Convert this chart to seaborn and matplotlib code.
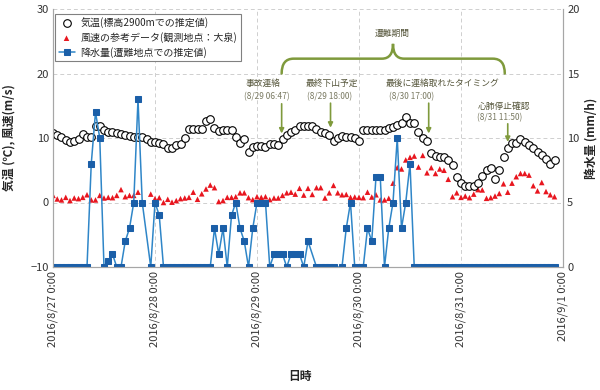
import matplotlib
matplotlib.use('Agg')
import matplotlib.pyplot as plt
import matplotlib.dates as mdates
from matplotlib.path import Path
from matplotlib.patches import PathPatch
import seaborn as sns
import pandas as pd
import numpy as np

nan = np.nan

#%% データ（1時間ごと, 2016/8/27 0:00 から）
start = '2016-08-27 00:00'

# 気温(標高2900mでの推定値) [℃]
temp = [10.8, 10.5, 10.1, 9.7, 9.4, 9.5, 9.8, 10.6, 10.2, 10.1,
        11.9, 11.9, 11.2, 11.0, 10.9, 10.8, 10.6, 10.5, 10.3, 10.2,
        10.2, 10.1, 9.8, 9.4, 9.4, 9.3, 9.0, 8.5, 8.5, 8.9,
        9.1, 10.0, 11.4, 11.4, 11.4, 11.4, 12.6, 12.9, 11.5, 11.1,
        11.2, 11.2, 11.2, 10.2, 9.3, 9.8, 7.9, 8.6, 8.7, 8.8,
        8.6, 9.0, 9.0, 8.9, 9.8, 10.4, 10.9, 11.3, 11.9, 11.8,
        11.8, 11.9, 11.4, 11.0, 10.7, 10.5, 9.6, 10.0, 10.3, 10.1,
        10.1, 10.0, 9.6, 11.2, 11.2, 11.2, 11.2, 11.3, 11.3, 11.5,
        11.7, 12.0, 12.3, 13.3, 12.3, 12.3, 10.9, 10.0, 9.6, 7.6,
        7.2, 7.1, 7.1, 6.6, 5.8, 4.0, 3.1, 2.6, 2.5, 2.5,
        3.0, 4.1, 5.0, 5.4, 3.6, 5.0, 7.0, 8.5, 9.3, 9.3,
        9.9, 9.4, 8.9, 8.4, 7.8, 7.3, 6.7, 6.0, 6.6]

# 風速の参考データ(観測地点：大泉) [m/s]
wind = [1.1, 0.55, 0.4, 0.8, 0.3, 0.7, 0.6, 0.8, 1.2, 0.4,
        0.4, 1.1, 0.7, 0.8, 0.75, 1.1, 2.0, 0.9, 1.1, 1.1,
        1.6, nan, nan, 1.3, 0.6, 0.75, 0.0, 0.5, 0.05, 0.3,
        0.6, 0.7, 0.8, 1.6, 0.5, 1.35, 2.1, 2.7, 2.3, 0.15,
        0.3, 0.8, 0.8, 0.9, 1.5, 1.5, 0.75, 0.45, 0.9, 0.8,
        0.9, 0.45, 0.7, 0.7, 1.1, 1.5, 1.6, 1.3, 2.2, 1.15,
        2.2, 1.25, 2.3, 2.3, 0.7, 1.5, 2.65, 1.5, 1.2, 1.25,
        0.8, 0.85, 0.8, 0.75, 1.6, 0.85, 1.2, 0.4, 0.4, 0.65,
        3.0, 5.4, 5.2, 6.6, 7.0, 7.2, 5.5, 7.3, 4.6, 5.4,
        4.5, 5.2, 5.0, 3.6, 0.9, 1.5, 0.8, 1.0, 0.75, 1.3,
        2.0, 1.95, 0.65, 0.75, 1.0, 1.4, 2.9, 1.6, 3.0, 4.0,
        4.5, 4.5, 4.25, 2.6, 1.8, 3.1, 1.7, 1.2, 0.9]

# 降水量(遭難地点での推定値) [mm/h]
rain = [0, 0, 0, 0, 0, 0, 0, 0, 0, 8,
        12, 10, 0, 0.5, 1, 0, 0, 2, 3, 5,
        13, 5, nan, 0, 5, 4, 0, 0, 0, 0,
        0, 0, 0, 0, 0, 0, 0, 0, 3, 1,
        3, 0, 4, 5, 3, 2, 0, 3, 5, 5,
        5, 0, 1, 1, 1, 0, 1, 1, 1, 0,
        2, nan, 0, 0, 0, 0, 0, nan, 0, 3,
        5, 0, 0, 0, 3, 2, 7, 7, 0, 3,
        5, 10, 3, 5, 8, 0, 0, 0, 0, 0,
        0, 0, 0, 0, 0, 0, 0, 0, 0, 0,
        0, 0, 0, 0, 0, 0, 0, 0, 0, 0,
        0, 0, 0, 0, 0, 0, 0, 0, 0]

day_ticks = ['2016-08-27', '2016-08-28', '2016-08-29', '2016-08-30', '2016-08-31', '2016-09-01']
day_labels = ['2016/8/27 0:00', '2016/8/28 0:00', '2016/8/29 0:00',
              '2016/8/30 0:00', '2016/8/31 0:00', '2016/9/1 0:00']

labels = ['気温(標高2900mでの推定値)', '風速の参考データ(観測地点：大泉)', '降水量(遭難地点での推定値)']

t0 = pd.Timestamp(start)
times = pd.date_range(start, periods=len(temp), freq='h')
df = pd.DataFrame({'time': times, 'temp': temp, 'wind': wind, 'rain': rain})

#%% 描画
sns.set_theme(style='white')
plt.rcParams['font.family'] = ['Noto Sans CJK JP', 'DejaVu Sans']

fig, ax = plt.subplots(figsize=(6, 3.9), dpi=100)
fig.subplots_adjust(left=53 / 600, right=563 / 600, top=1 - 9 / 390, bottom=1 - 267 / 390)
ax2 = ax.twinx()

sns.scatterplot(data=df.dropna(subset=['wind']), x='time', y='wind', ax=ax, marker='^',
                s=16, color='#e8161f', edgecolor='none', label=labels[1], zorder=3)
sns.scatterplot(data=df, x='time', y='temp', ax=ax, marker='o', s=30, color='white',
                edgecolor='black', linewidth=0.8, label=labels[0], zorder=4)
sns.lineplot(data=df.dropna(subset=['rain']), x='time', y='rain', ax=ax2, color='#2f86c8',
             linewidth=1.1, marker='s', markersize=4, markerfacecolor='#1b5fa8',
             markeredgecolor='#1b5fa8', label=labels[2])

ax.set_xlim(pd.Timestamp(day_ticks[0]), pd.Timestamp(day_ticks[-1]))
ax.set_ylim(-10, 30)
ax2.set_ylim(0, 20)
ax.set_yticks([-10, 0, 10, 20, 30])
ax2.set_yticks([0, 5, 10, 15, 20])
ax.set_xticks(pd.to_datetime(day_ticks))
ax.set_xticklabels(day_labels, rotation=90)

ax.grid(True, linestyle=(0, (4, 3)), color='#cfcfcf', linewidth=0.7)
ax2.grid(False)
for a in (ax, ax2):
    a.spines['top'].set_visible(False)
    for s in ('left', 'right', 'bottom'):
        a.spines[s].set_color('#a6a6a6')
        a.spines[s].set_linewidth(0.8)
    a.tick_params(labelsize=8, length=0, colors='#333333', pad=3)

ax.set_xlabel('日時', fontsize=8.5, fontweight='bold')
ax.set_ylabel('気温 (℃), 風速(m/s)', fontsize=8.5, fontweight='bold')
ax2.set_ylabel('降水量 (mm/h)', fontsize=8.5, fontweight='bold')
ax.xaxis.set_label_coords(0.484, -0.40)
ax.yaxis.set_label_coords(-0.072, 0.5)
ax2.yaxis.set_label_coords(1.042, 0.5)

# 凡例
h1, l1 = ax.get_legend_handles_labels()
h2, l2 = ax2.get_legend_handles_labels()
hd = dict(zip(l1 + l2, h1 + h2))
if ax.get_legend() is not None:
    ax.get_legend().remove()
leg = ax2.legend([hd[l] for l in labels], labels, loc='upper left', bbox_to_anchor=(0.0, 0.99),
                 fontsize=7.2, frameon=True, fancybox=False, edgecolor='#808080', framealpha=1,
                 handlelength=1.6, handletextpad=0.6, borderpad=0.35, labelspacing=0.4,
                 borderaxespad=0.2)
leg.get_frame().set_linewidth(0.8)

#%% 注釈
olive = '#7f9a3c'
txt_c = '#55553a'
date_c = '#7a7a62'


def t(h):
    return t0 + pd.Timedelta(hours=h)


notes = [
    # (文字, 日時文字, 文字位置h, 日時位置h, 文字y, 日時y, 矢印h, 矢印開始y, 矢印終了y)
    ('事故連絡', '(8/29 06:47)', 49.5, 50.3, 18.45, 16.4, 53.8, 15.3, 10.7),
    ('最終下山予定', '(8/29 18:00)', 65.5, 65.0, 18.45, 16.4, 65.3, 15.4, 11.6),
    ('最後に連絡取れたタイミング', '(8/30 17:00)', 91.7, 84.4, 18.45, 16.4, 88.4, 15.4, 10.7),
    ('心肺停止確認', '(8/31 11:50)', 106.2, 105.2, 14.9, 13.2, 107.0, 12.2, 9.4),
]
for lab, dat, hx, hd_, ly, dy, ha_, y0, y1 in notes:
    ax.text(t(hx), ly, lab, ha='center', va='center', fontsize=6.3, color=txt_c, zorder=6)
    ax.text(t(hd_), dy, dat, ha='center', va='center', fontsize=6, color=date_c, zorder=6)
    ax.annotate('', xy=(t(ha_), y1), xytext=(t(ha_), y0),
                arrowprops=dict(arrowstyle='-|>', color=olive, lw=1.2, mutation_scale=7,
                                shrinkA=0, shrinkB=0), zorder=6)

# 遭難期間の中括弧
def xn(h):
    return mdates.date2num(t(h))


verts = [(xn(53.8), 20.0), (xn(53.8), 22.3), (xn(56.6), 22.3),
         (xn(77.4), 22.3), (xn(80.0), 22.3), (xn(80.0), 24.6),
         (xn(80.0), 22.3), (xn(82.6), 22.3),
         (xn(103.5), 22.3), (xn(106.3), 22.3), (xn(106.3), 20.0)]
codes = [Path.MOVETO, Path.CURVE3, Path.CURVE3,
         Path.LINETO, Path.CURVE3, Path.CURVE3,
         Path.CURVE3, Path.CURVE3,
         Path.LINETO, Path.CURVE3, Path.CURVE3]
ax.add_patch(PathPatch(Path(verts, codes), facecolor='none', edgecolor=olive, lw=1.8,
                       capstyle='round', zorder=6))
ax.text(t(79.9), 26.2, '遭難期間', ha='center', va='center', fontsize=6.3, color=txt_c, zorder=6)

plt.savefig('out.png', dpi=100)
